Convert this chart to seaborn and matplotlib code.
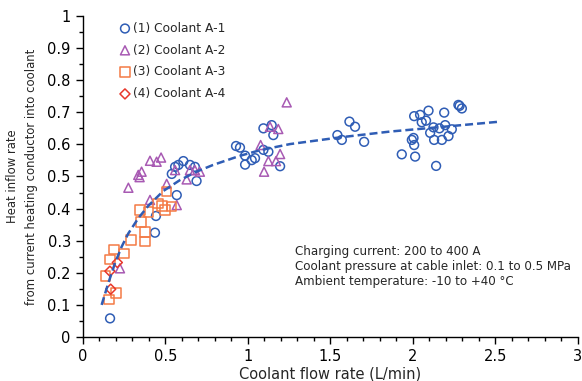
import numpy as np
import pandas as pd
import matplotlib
matplotlib.use("Agg")
import matplotlib.pyplot as plt
import seaborn as sns
from matplotlib.ticker import MultipleLocator, FuncFormatter

# -------------------------
# Data
# -------------------------
a1_x = [0.166, 0.438, 0.444, 0.54, 0.56, 0.58, 0.61, 0.65, 0.68, 0.69, 0.57,
        0.929, 0.953, 0.984, 0.984, 1.024, 1.044, 1.095, 1.145, 1.155, 1.125, 1.095, 1.196,
        1.543, 1.57, 1.616, 1.65, 1.705,
        1.933, 2.014, 1.994, 2.008, 2.004, 2.141, 2.008, 2.044, 2.095, 2.054, 2.08,
        2.105, 2.125, 2.129, 2.176, 2.161, 2.19, 2.196, 2.216, 2.236, 2.276, 2.283, 2.297]
a1_y = [0.058, 0.325, 0.377, 0.508, 0.53, 0.536, 0.548, 0.536, 0.53, 0.486, 0.442,
        0.595, 0.59, 0.565, 0.537, 0.551, 0.557, 0.65, 0.66, 0.629, 0.577, 0.583, 0.532,
        0.629, 0.614, 0.671, 0.655, 0.608,
        0.569, 0.562, 0.614, 0.598, 0.62, 0.533, 0.688, 0.692, 0.705, 0.669, 0.674,
        0.636, 0.653, 0.614, 0.614, 0.65, 0.699, 0.66, 0.626, 0.647, 0.723, 0.72, 0.712]

a2_x = [0.226, 0.277, 0.337, 0.345, 0.357, 0.408, 0.448, 0.475, 0.408, 0.509, 0.57,
        0.56, 0.63, 0.65, 0.68, 0.71,
        1.236, 1.135, 1.185, 1.078, 1.196, 1.125, 1.171, 1.099]
a2_y = [0.214, 0.465, 0.505, 0.498, 0.515, 0.549, 0.546, 0.559, 0.427, 0.477, 0.411,
        0.52, 0.491, 0.52, 0.52, 0.515,
        0.731, 0.655, 0.648, 0.598, 0.57, 0.548, 0.548, 0.515]

a3_x = [0.161, 0.202, 0.139, 0.165, 0.19, 0.252, 0.293, 0.378, 0.378, 0.353, 0.347,
        0.398, 0.458, 0.479, 0.499, 0.539, 0.509]
a3_y = [0.117, 0.138, 0.19, 0.242, 0.273, 0.26, 0.302, 0.297, 0.328, 0.359, 0.396,
        0.39, 0.416, 0.408, 0.396, 0.406, 0.453]

a4_x = [0.17, 0.165, 0.21]
a4_y = [0.149, 0.205, 0.232]

# dashed fitted curve, read point by point
fit_x = [0.115, 0.155, 0.196, 0.236, 0.276, 0.337, 0.4, 0.489, 0.59, 0.69, 0.79,
         0.95, 1.075, 1.256, 1.56, 1.862, 2.145, 2.53]
fit_y = [0.10, 0.167, 0.23, 0.281, 0.322, 0.37, 0.41, 0.455, 0.489, 0.515, 0.536,
         0.564, 0.582, 0.601, 0.622, 0.64, 0.653, 0.671]

labels = ["(1) Coolant A-1", "(2) Coolant A-2", "(3) Coolant A-3", "(4) Coolant A-4"]
notes = ["Charging current: 200 to 400 A",
         "Coolant pressure at cable inlet: 0.1 to 0.5 MPa",
         "Ambient temperature: -10 to +40 \u00b0C"]

# -------------------------
# Plot
# -------------------------
sns.set_style("white")
plt.rcParams['font.family'] = ['DejaVu Sans']

fig = plt.figure(figsize=(5.82, 3.81), dpi=100)
ax = fig.add_axes([0.142, 0.1155, 0.851, 0.8425])

series = [
    (a1_x, a1_y, "o", "#2F5DB5", 40),
    (a2_x, a2_y, "^", "#A85AB3", 42),
    (a3_x, a3_y, "s", "#F47A45", 48),
    (a4_x, a4_y, "D", "#E8372B", 26),
]
for (xs, ys, m, c, s), lab in zip(series, labels):
    sns.scatterplot(x=xs, y=ys, marker=m, s=s, facecolor="none", edgecolor=c,
                    linewidth=1.1, label=lab, ax=ax, zorder=3)

sns.lineplot(x=fit_x, y=fit_y, color="#2F5DB5", linestyle=(0, (3.2, 1.6)),
             linewidth=1.8, ax=ax, zorder=4, sort=False)

ax.set_xlim(0, 3)
ax.set_ylim(0, 1)
ax.xaxis.set_major_locator(MultipleLocator(0.5))
ax.xaxis.set_minor_locator(MultipleLocator(0.1))
ax.yaxis.set_major_locator(MultipleLocator(0.1))
ax.yaxis.set_minor_locator(MultipleLocator(0.05))
fmt = FuncFormatter(lambda v, p: ("%g" % round(v, 2)))
ax.xaxis.set_major_formatter(fmt)
ax.yaxis.set_major_formatter(fmt)

for side in ["top", "right"]:
    ax.spines[side].set_visible(False)
for side in ["left", "bottom"]:
    ax.spines[side].set_color("black")
    ax.spines[side].set_linewidth(1.0)
ax.tick_params(which="major", direction="out", length=5, width=1, colors="black",
               labelsize=10.5, left=True, bottom=True)
ax.tick_params(which="minor", direction="out", length=3, width=1, colors="black",
               left=True, bottom=True)

ax.set_xlabel("Coolant flow rate (L/min)", fontsize=10.5, labelpad=2)
ax.set_ylabel("Heat inflow rate\nfrom current heating conductor into coolant",
              fontsize=8.4, labelpad=7, linespacing=1.55)

leg = ax.legend(loc="upper left", bbox_to_anchor=(0.062, 1.005), frameon=False,
                fontsize=8.8, handlelength=0.7, handletextpad=0.3,
                labelspacing=0.72, borderaxespad=0.2)

ax.text(0.428, 0.287, "\n".join(notes), transform=ax.transAxes, fontsize=8.6,
        va="top", ha="left", linespacing=1.22)

fig.savefig("out.png", dpi=100)
